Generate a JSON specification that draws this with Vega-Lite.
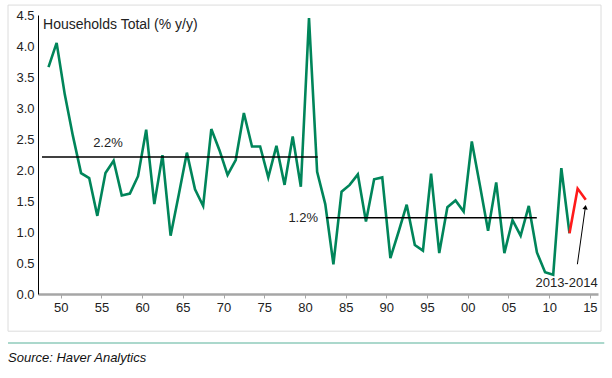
{
  "$schema": "https://vega.github.io/schema/vega-lite/v6.json",
  "width": 560,
  "height": 279,
  "autosize": {"type": "none"},
  "padding": {"left": 38, "top": 15, "right": 14, "bottom": 84},
  "background": "white",
  "config": {"view": {"stroke": null}, "font": "Liberation Sans", "axis": {"labelOverlap": false, "grid": false, "title": null}},
  "datasets": {
    "hh": [
      {"date": "1948-07-01", "v": 3.66, "s": "hist"},
      {"date": "1949-07-01", "v": 4.05, "s": "hist"},
      {"date": "1950-07-01", "v": 3.22, "s": "hist"},
      {"date": "1951-07-01", "v": 2.55, "s": "hist"},
      {"date": "1952-07-01", "v": 1.95, "s": "hist"},
      {"date": "1953-07-01", "v": 1.87, "s": "hist"},
      {"date": "1954-07-01", "v": 1.26, "s": "hist"},
      {"date": "1955-07-01", "v": 1.95, "s": "hist"},
      {"date": "1956-07-01", "v": 2.15, "s": "hist"},
      {"date": "1957-07-01", "v": 1.59, "s": "hist"},
      {"date": "1958-07-01", "v": 1.62, "s": "hist"},
      {"date": "1959-07-01", "v": 1.90, "s": "hist"},
      {"date": "1960-07-01", "v": 2.65, "s": "hist"},
      {"date": "1961-07-01", "v": 1.45, "s": "hist"},
      {"date": "1962-07-01", "v": 2.24, "s": "hist"},
      {"date": "1963-07-01", "v": 0.94, "s": "hist"},
      {"date": "1964-07-01", "v": 1.60, "s": "hist"},
      {"date": "1965-07-01", "v": 2.28, "s": "hist"},
      {"date": "1966-07-01", "v": 1.69, "s": "hist"},
      {"date": "1967-07-01", "v": 1.42, "s": "hist"},
      {"date": "1968-07-01", "v": 2.66, "s": "hist"},
      {"date": "1969-07-01", "v": 2.32, "s": "hist"},
      {"date": "1970-07-01", "v": 1.92, "s": "hist"},
      {"date": "1971-07-01", "v": 2.16, "s": "hist"},
      {"date": "1972-07-01", "v": 2.92, "s": "hist"},
      {"date": "1973-07-01", "v": 2.38, "s": "hist"},
      {"date": "1974-07-01", "v": 2.38, "s": "hist"},
      {"date": "1975-07-01", "v": 1.88, "s": "hist"},
      {"date": "1976-07-01", "v": 2.39, "s": "hist"},
      {"date": "1977-07-01", "v": 1.76, "s": "hist"},
      {"date": "1978-07-01", "v": 2.54, "s": "hist"},
      {"date": "1979-07-01", "v": 1.73, "s": "hist"},
      {"date": "1980-07-01", "v": 4.45, "s": "hist"},
      {"date": "1981-07-01", "v": 1.97, "s": "hist"},
      {"date": "1982-07-01", "v": 1.45, "s": "hist"},
      {"date": "1983-07-01", "v": 0.48, "s": "hist"},
      {"date": "1984-07-01", "v": 1.65, "s": "hist"},
      {"date": "1985-07-01", "v": 1.76, "s": "hist"},
      {"date": "1986-07-01", "v": 1.93, "s": "hist"},
      {"date": "1987-07-01", "v": 1.17, "s": "hist"},
      {"date": "1988-07-01", "v": 1.85, "s": "hist"},
      {"date": "1989-07-01", "v": 1.88, "s": "hist"},
      {"date": "1990-07-01", "v": 0.58, "s": "hist"},
      {"date": "1991-07-01", "v": 1.00, "s": "hist"},
      {"date": "1992-07-01", "v": 1.44, "s": "hist"},
      {"date": "1993-07-01", "v": 0.79, "s": "hist"},
      {"date": "1994-07-01", "v": 0.70, "s": "hist"},
      {"date": "1995-07-01", "v": 1.94, "s": "hist"},
      {"date": "1996-07-01", "v": 0.66, "s": "hist"},
      {"date": "1997-07-01", "v": 1.40, "s": "hist"},
      {"date": "1998-07-01", "v": 1.51, "s": "hist"},
      {"date": "1999-07-01", "v": 1.33, "s": "hist"},
      {"date": "2000-07-01", "v": 2.46, "s": "hist"},
      {"date": "2001-07-01", "v": 1.75, "s": "hist"},
      {"date": "2002-07-01", "v": 1.02, "s": "hist"},
      {"date": "2003-07-01", "v": 1.80, "s": "hist"},
      {"date": "2004-07-01", "v": 0.66, "s": "hist"},
      {"date": "2005-07-01", "v": 1.19, "s": "hist"},
      {"date": "2006-07-01", "v": 0.94, "s": "hist"},
      {"date": "2007-07-01", "v": 1.42, "s": "hist"},
      {"date": "2008-07-01", "v": 0.67, "s": "hist"},
      {"date": "2009-07-01", "v": 0.35, "s": "hist"},
      {"date": "2010-07-01", "v": 0.31, "s": "hist"},
      {"date": "2011-07-01", "v": 2.03, "s": "hist"},
      {"date": "2012-07-01", "v": 0.98, "s": "hist"},
      {"date": "2012-07-01", "v": 0.98, "s": "recent"},
      {"date": "2013-07-01", "v": 1.70, "s": "recent"},
      {"date": "2014-07-01", "v": 1.52, "s": "recent"}
    ]
  },
  "layer": [
    {
      "data": {"name": "hh"},
      "mark": {"type": "line", "strokeWidth": 2.6},
      "encoding": {
        "x": {
          "field": "date",
          "type": "temporal",
          "title": null,
          "scale": {
            "type": "utc",
            "domain": [
              {"year": 1947, "month": 3, "date": 18, "utc": true},
              {"year": 2016, "month": 1, "date": 1, "utc": true}
            ],
            "nice": false
          },
          "axis": {
            "values": [
              {"year": 1950, "utc": true}, {"year": 1955, "utc": true},
              {"year": 1960, "utc": true}, {"year": 1965, "utc": true},
              {"year": 1970, "utc": true}, {"year": 1975, "utc": true},
              {"year": 1980, "utc": true}, {"year": 1985, "utc": true},
              {"year": 1990, "utc": true}, {"year": 1995, "utc": true},
              {"year": 2000, "utc": true}, {"year": 2005, "utc": true},
              {"year": 2010, "utc": true}, {"year": 2015, "utc": true}
            ],
            "format": "%y",
            "grid": false,
            "labelOverlap": false,
            "domainColor": "#a6a6a6",
            "domainWidth": 2.5,
            "tickColor": "#a6a6a6",
            "tickSize": 4,
            "tickWidth": 1,
            "labelPadding": 3,
            "labelFontSize": 13,
            "labelColor": "#222222",
            "labelFont": "Liberation Sans"
          }
        },
        "y": {
          "field": "v",
          "type": "quantitative",
          "title": null,
          "scale": {"domain": [0, 4.5], "nice": false, "zero": false},
          "axis": {
            "tickCount": 9,
            "format": ".1f",
            "grid": false,
            "ticks": false,
            "labelOverlap": false,
            "labelSeparation": 0,
            "labelBound": false,
            "domainColor": "#000000",
            "domainWidth": 1,
            "labelPadding": 4,
            "labelFontSize": 13,
            "labelColor": "#222222",
            "labelFont": "Liberation Sans"
          }
        },
        "color": {
          "field": "s",
          "type": "nominal",
          "scale": {"domain": ["hist", "recent"], "range": ["#00855a", "#ff1a1a"]},
          "legend": null
        },
        "order": {"field": "date", "type": "temporal"}
      }
    },
    {
      "data": {"values": [{"x1": "1943-07-12", "x2": "2016-05-15", "y1": 4.66, "y2": -0.6}]},
      "mark": {"type": "rect", "fillOpacity": 0, "stroke": "#dcdcdc", "strokeWidth": 1},
      "encoding": {
        "x": {"field": "x1", "type": "temporal", "title": null},
        "x2": {"field": "x2"},
        "y": {"field": "y1", "type": "quantitative", "title": null},
        "y2": {"field": "y2"}
      }
    },
    {
      "data": {"values": [{"x1": "1943-07-12", "x2": "2016-10-08", "y": -0.79}]},
      "mark": {"type": "rule", "color": "#8fcbbb", "strokeWidth": 1.5},
      "encoding": {
        "x": {"field": "x1", "type": "temporal", "title": null},
        "x2": {"field": "x2"},
        "y": {"field": "y", "type": "quantitative", "title": null}
      }
    },
    {
      "data": {"values": [
        {"x1": "1947-09-12", "x2": "1981-07-27", "y": 2.21},
        {"x1": "1982-08-08", "x2": "2008-06-25", "y": 1.23}
      ]},
      "mark": {"type": "rule", "color": "#000000", "strokeWidth": 1.5},
      "encoding": {
        "x": {"field": "x1", "type": "temporal", "title": null},
        "x2": {"field": "x2"},
        "y": {"field": "y", "type": "quantitative", "title": null}
      }
    },
    {
      "data": {"values": [{"x": "1947-11-01", "y": 4.34, "label": "Households Total (% y/y)"}]},
      "mark": {"type": "text", "align": "left", "baseline": "middle", "fontSize": 14, "color": "#222222"},
      "encoding": {
        "x": {"field": "x", "type": "temporal", "title": null},
        "y": {"field": "y", "type": "quantitative", "title": null},
        "text": {"field": "label"}
      }
    },
    {
      "data": {"values": [{"x": "1955-10-20", "y": 2.44, "label": "2.2%"}]},
      "mark": {"type": "text", "align": "center", "baseline": "middle", "fontSize": 13, "color": "#222222"},
      "encoding": {
        "x": {"field": "x", "type": "temporal", "title": null},
        "y": {"field": "y", "type": "quantitative", "title": null},
        "text": {"field": "label"}
      }
    },
    {
      "data": {"values": [
        {"x": "1981-08-10", "y": 1.23, "label": "1.2%"},
        {"x": "2015-12-15", "y": 0.18, "label": "2013-2014"}
      ]},
      "mark": {"type": "text", "align": "right", "baseline": "middle", "fontSize": 13, "color": "#222222"},
      "encoding": {
        "x": {"field": "x", "type": "temporal", "title": null},
        "y": {"field": "y", "type": "quantitative", "title": null},
        "text": {"field": "label"}
      }
    },
    {
      "data": {"values": [{"x1": "2013-06-20", "y1": 0.48, "x2": "2014-06-20", "y2": 1.42}]},
      "mark": {"type": "rule", "color": "#000000", "strokeWidth": 1},
      "encoding": {
        "x": {"field": "x1", "type": "temporal", "title": null},
        "x2": {"field": "x2"},
        "y": {"field": "y1", "type": "quantitative", "title": null},
        "y2": {"field": "y2"}
      }
    },
    {
      "data": {"values": [{"x": "2014-06-15", "y": 1.40}]},
      "mark": {"type": "point", "shape": "triangle-up", "angle": 8, "size": 28, "filled": true, "color": "#000000", "opacity": 1},
      "encoding": {
        "x": {"field": "x", "type": "temporal", "title": null},
        "y": {"field": "y", "type": "quantitative", "title": null}
      }
    },
    {
      "data": {"values": [{"x": "1943-07-12", "y": -1.03, "label": "Source:  Haver Analytics"}]},
      "mark": {"type": "text", "align": "left", "baseline": "middle", "fontSize": 13, "fontStyle": "italic", "font": "Liberation Sans", "color": "#111111"},
      "encoding": {
        "x": {"field": "x", "type": "temporal", "title": null},
        "y": {"field": "y", "type": "quantitative", "title": null},
        "text": {"field": "label"}
      }
    }
  ]
}
